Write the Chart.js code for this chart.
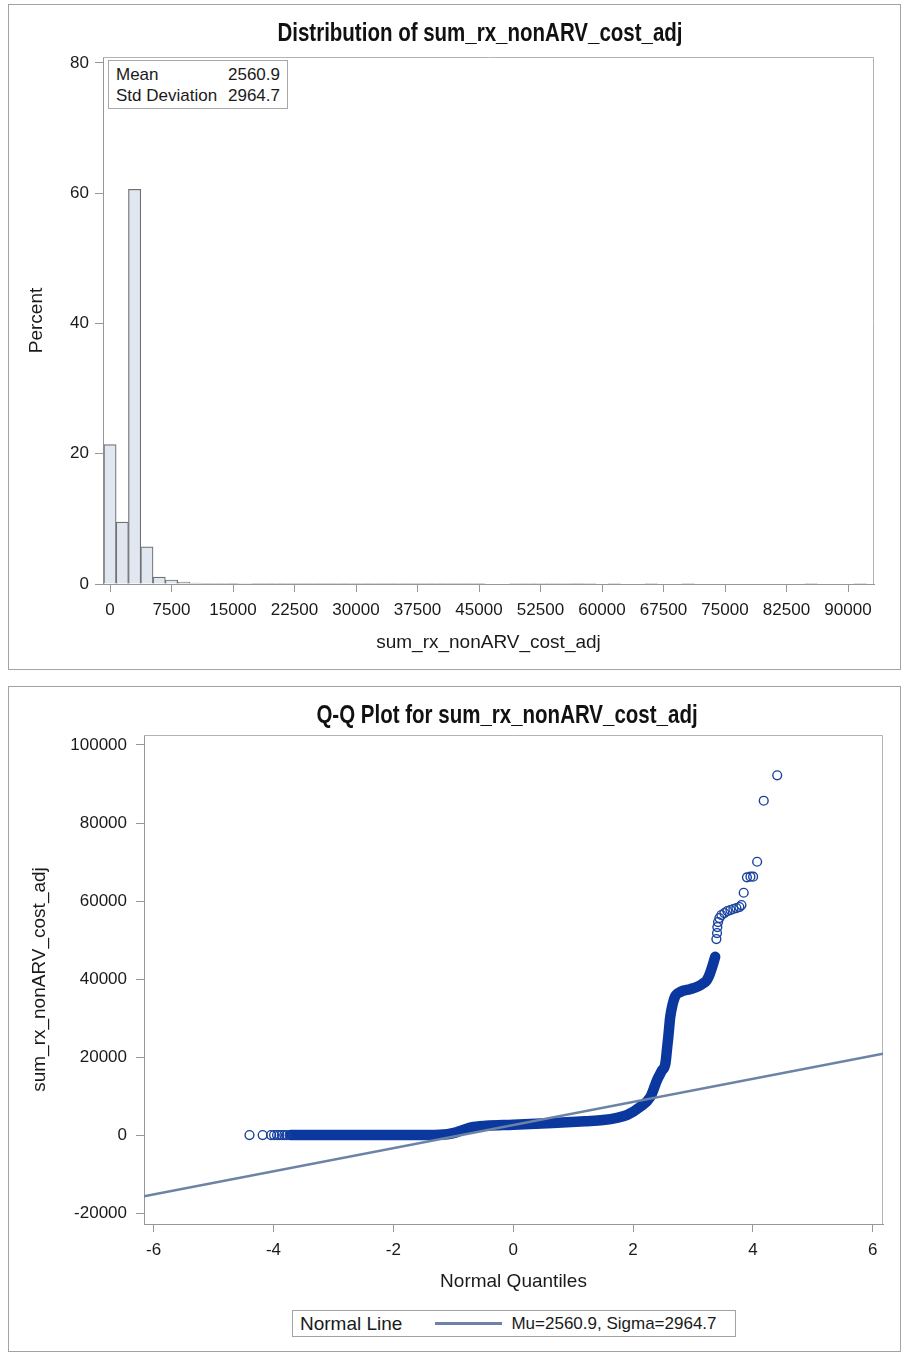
<!DOCTYPE html>
<html>
<head>
<meta charset="utf-8">
<script src="https://cdn.jsdelivr.net/npm/chart.js@4.4.1/dist/chart.umd.min.js"></script>
<style>
  html, body { margin: 0; padding: 0; background: #fff; }
  body { width: 904px; height: 1353px; position: relative; overflow: hidden;
         font-family: "Liberation Sans", Arial, sans-serif; color: #1a1a1a; }
  .panel { position: absolute; left: 8px; width: 893px; height: 666px;
           border: 1px solid #a3a3a3; box-sizing: border-box; }
  canvas { position: absolute; left: 0; }
  .title { position: absolute; white-space: nowrap; font-weight: bold; font-size: 25px;
           line-height: 30px; color: #111; transform: translateX(-50%) scaleX(0.82); }
  #stats { position: absolute; left: 108px; top: 60px; width: 180px; height: 49px;
           border: 1px solid #a8a8a8; box-sizing: border-box; background: #fff;
           font-size: 17px; line-height: 21px; padding: 3px 7px 0 7px; }
  #stats .row { display: flex; justify-content: space-between; }
  #qqLegend { position: absolute; left: 292px; top: 1310px; width: 444px; height: 27px;
              border: 1px solid #a3a3a3; box-sizing: border-box; background: #fff;
              display: flex; align-items: center; font-size: 19px; padding-left: 7px; }
  #qqLegend .swatch { display: inline-block; width: 67px; height: 3px; margin: 0 9px 0 33px; }
</style>
</head>
<body>
<div class="panel" style="top:4px"></div>
<div class="panel" style="top:686px"></div>
<canvas id="hist" width="904" height="676" style="top:0"></canvas>
<canvas id="qq" width="904" height="624" style="top:676px"></canvas>
<div id="histTitle" class="title" style="left:480px; top:17px"></div>
<div id="qqTitle" class="title" style="left:507px; top:699px"></div>
<div id="stats"></div>
<div id="qqLegend"></div>

<script>
// ---- summary statistics ----
const VAR_NAME = 'sum_rx_nonARV_cost_adj';
const MU = 2560.9;
const SIGMA = 2964.7;

// ---- histogram: bin midpoints and percent of observations ----
const BIN_MIDPOINTS = [
  0, 1500, 3000, 4500, 6000, 7500, 9000, 10500, 12000, 13500,
  15000, 16500, 18000, 19500, 21000, 22500, 24000, 25500, 27000, 28500,
  30000, 31500, 33000, 34500, 36000, 37500, 39000, 40500, 42000, 43500,
  45000, 46500, 48000, 49500, 51000, 52500, 54000, 55500, 57000, 58500,
  60000, 61500, 63000, 64500, 66000, 67500, 69000, 70500, 72000, 73500,
  75000, 76500, 78000, 79500, 81000, 82500, 84000, 85500, 87000, 88500,
  90000, 91500
];
const PERCENT = [
  21.4, 9.5, 60.6, 5.7, 1.05, 0.62, 0.28, 0.15, 0.12, 0.10,
  0.09, 0.08, 0.06, 0.05, 0.05, 0.04, 0.03, 0.03, 0.03, 0.03,
  0.04, 0.04, 0.04, 0.05, 0.10, 0.10, 0.05, 0.03, 0.02, 0.02,
  0.02, 0, 0, 0.01, 0.01, 0.01, 0.01, 0.01, 0.02, 0.01,
  0, 0.01, 0, 0, 0.01, 0, 0, 0.01, 0, 0,
  0, 0, 0, 0, 0, 0, 0, 0.01, 0, 0,
  0, 0.01
];
const HIST_X_TICKS = [0, 7500, 15000, 22500, 30000, 37500, 45000, 52500, 60000, 67500, 75000, 82500, 90000];
const HIST_Y_TICKS = [0, 20, 40, 60, 80];

// ---- Q-Q plot: normal quantile vs observed value ----
// isolated observations in the tails
const QQ_SPARSE_Q = [-4.40, -4.18, -4.04, -3.99, -3.94, -3.90, -3.86, -3.82, -3.78,
  3.39, 3.401, 3.406, 3.418, 3.44, 3.473, 3.523, 3.573, 3.624, 3.674, 3.724, 3.774, 3.808,
  3.846, 3.90, 3.958, 4.003, 4.07, 4.18, 4.405];
const QQ_SPARSE_V = [0, 0, 0, 0, 0, 0, 0, 0, 0,
  50250, 51790, 53330, 54610, 55640, 56410, 56920, 57430, 57690, 57950, 58200, 58460, 58970,
  62120, 66070, 66230, 66230, 70070, 85710, 92230];
// dense run of observations (drawn as a solid band)
const QQ_DENSE_Q = [-3.72, -1.40, -1.10, -0.95, -0.80, -0.70, -0.45, 0.00, 0.66, 1.20,
  1.50, 1.75, 1.90, 2.12, 2.29, 2.40, 2.48, 2.54, 2.57, 2.59,
  2.62, 2.66, 2.70, 2.79, 2.95, 3.07, 3.16, 3.23, 3.28, 3.32, 3.37];
const QQ_DENSE_V = [0, 0, 200, 700, 1500, 2000, 2400, 2650, 3100, 3550,
  3850, 4500, 5130, 7260, 9820, 14100, 16500, 18400, 22600, 25500,
  30300, 33500, 35500, 36700, 37400, 38000, 38800, 39700, 41300, 43100, 45700];
const QQ_LINE_Q = [-6.16, 6.17];
const QQ_X_TICKS = [-6, -4, -2, 0, 2, 4, 6];
const QQ_Y_TICKS = [-20000, 0, 20000, 40000, 60000, 80000, 100000];

// ---- shared styling ----
const TEXT = '#1a1a1a';
const AXIS = '#979797';
const TICK_FONT = { family: '"Liberation Sans", Arial, sans-serif', size: 17 };
const LABEL_FONT = { family: '"Liberation Sans", Arial, sans-serif', size: 19 };
const MARKER = '#0b389e';
const FIT = '#6c83a5';

Chart.defaults.color = TEXT;
Chart.defaults.animation = false;

// light frame on the top and right sides of the plot area
const plotFrame = {
  id: 'plotFrame',
  beforeDatasetsDraw(chart) {
    const { ctx, chartArea: a } = chart;
    ctx.save();
    ctx.strokeStyle = '#b3b3b3';
    ctx.lineWidth = 1;
    ctx.beginPath();
    ctx.moveTo(a.left, a.top + 0.5);
    ctx.lineTo(a.right - 0.5, a.top + 0.5);
    ctx.lineTo(a.right - 0.5, a.bottom);
    ctx.stroke();
    ctx.restore();
  }
};

function fixedTicks(values) {
  return s => { s.ticks = values.map(v => ({ value: v })); };
}

function axis(extra) {
  return Object.assign({
    type: 'linear',
    offset: false,
    grid: { display: true, offset: false, drawOnChartArea: false, drawTicks: true, tickLength: 8, color: AXIS, lineWidth: 1 },
    border: { display: true, color: AXIS, width: 1 },
  }, extra);
}

// ---- histogram ----
document.getElementById('histTitle').textContent = 'Distribution of ' + VAR_NAME;

new Chart(document.getElementById('hist'), {
  type: 'bar',
  data: {
    datasets: [{
      data: BIN_MIDPOINTS.map((x, i) => ({ x, y: PERCENT[i] })),
      backgroundColor: '#e1e7f1',
      borderColor: '#707070',
      borderWidth: 1.2,
      barPercentage: 1,
      categoryPercentage: 1,
    }]
  },
  options: {
    responsive: false,
    devicePixelRatio: 1,
    layout: { padding: { left: 12, right: 30, top: 57, bottom: 10 } },
    plugins: {
      legend: { display: false },
      tooltip: { enabled: false },
      title: { display: false },
    },
    scales: {
      x: axis({
        min: -854, max: 93170,
        afterBuildTicks: fixedTicks(HIST_X_TICKS),
        afterFit: s => { s.height = 82; },
        ticks: { font: TICK_FONT, color: TEXT, padding: 8, maxRotation: 0, autoSkip: false, callback: v => String(v) },
        title: { display: true, text: VAR_NAME, font: LABEL_FONT, color: TEXT, padding: { top: 0, bottom: 11.6 } },
      }),
      y: axis({
        min: 0, max: 80.92,
        afterBuildTicks: fixedTicks(HIST_Y_TICKS),
        afterFit: s => { s.width = 91; },
        ticks: { font: TICK_FONT, color: TEXT, padding: 6, callback: v => String(v) },
        title: { display: true, text: 'Percent', font: LABEL_FONT, color: TEXT, padding: { top: 13.6, bottom: 0 } },
      }),
    }
  },
  plugins: [plotFrame]
});

document.getElementById('stats').innerHTML =
  '<div class="row"><span>Mean</span><span>' + MU.toFixed(1) + '</span></div>' +
  '<div class="row"><span>Std Deviation</span><span>' + SIGMA.toFixed(1) + '</span></div>';

// ---- Q-Q plot ----
document.getElementById('qqTitle').textContent = 'Q-Q Plot for ' + VAR_NAME;

const qq = new Chart(document.getElementById('qq'), {
  type: 'scatter',
  data: {
    datasets: [
      {
        // fitted normal reference line: value = Mu + Sigma * quantile
        type: 'line',
        label: 'Mu=' + MU + ', Sigma=' + SIGMA,
        data: QQ_LINE_Q.map(q => ({ x: q, y: MU + SIGMA * q })),
        borderColor: FIT,
        borderWidth: 2.6,
        pointRadius: 0,
        fill: false,
        isFit: true,
      },
      {
        type: 'scatter',
        label: 'sparse',
        data: QQ_SPARSE_Q.map((q, i) => ({ x: q, y: QQ_SPARSE_V[i] })),
        pointStyle: 'circle',
        pointRadius: 4.4,
        borderWidth: 1.4,
        borderColor: '#1a429f',
        backgroundColor: 'rgba(0,0,0,0)',
      },
      {
        type: 'line',
        label: 'dense',
        data: QQ_DENSE_Q.map((q, i) => ({ x: q, y: QQ_DENSE_V[i] })),
        borderColor: MARKER,
        borderWidth: 10.5,
        borderCapStyle: 'round',
        borderJoinStyle: 'round',
        cubicInterpolationMode: 'monotone',
        pointRadius: 0,
        fill: false,
      },
    ]
  },
  options: {
    responsive: false,
    devicePixelRatio: 1,
    layout: { padding: { left: 12, right: 21, top: 59, bottom: 0 } },
    plugins: {
      legend: { display: false },
      tooltip: { enabled: false },
      title: { display: false },
    },
    scales: {
      x: axis({
        min: -6.16, max: 6.17,
        afterBuildTicks: fixedTicks(QQ_X_TICKS),
        afterFit: s => { s.height = 76; },
        ticks: { font: TICK_FONT, color: TEXT, padding: 8, maxRotation: 0, autoSkip: false, callback: v => String(v) },
        title: { display: true, text: 'Normal Quantiles', font: LABEL_FONT, color: TEXT, padding: { top: 0, bottom: 6.6 } },
      }),
      y: axis({
        min: -22800, max: 102560,
        afterBuildTicks: fixedTicks(QQ_Y_TICKS),
        afterFit: s => { s.width = 132; },
        ticks: { font: TICK_FONT, color: TEXT, padding: 9, callback: v => String(v) },
        title: { display: true, text: VAR_NAME, font: LABEL_FONT, color: TEXT, padding: { top: 16.6, bottom: 0 } },
      }),
    }
  },
  plugins: [plotFrame]
});

// legend box built from the fitted-line dataset
(function buildLegend() {
  const box = document.getElementById('qqLegend');
  const fit = qq.data.datasets.find(d => d.isFit);
  const title = document.createElement('span');
  title.textContent = 'Normal Line';
  const swatch = document.createElement('span');
  swatch.className = 'swatch';
  swatch.style.background = fit.borderColor;
  const label = document.createElement('span');
  label.textContent = fit.label;
  label.style.fontSize = '17px';
  box.append(title, swatch, label);
})();
</script>
</body>
</html>
